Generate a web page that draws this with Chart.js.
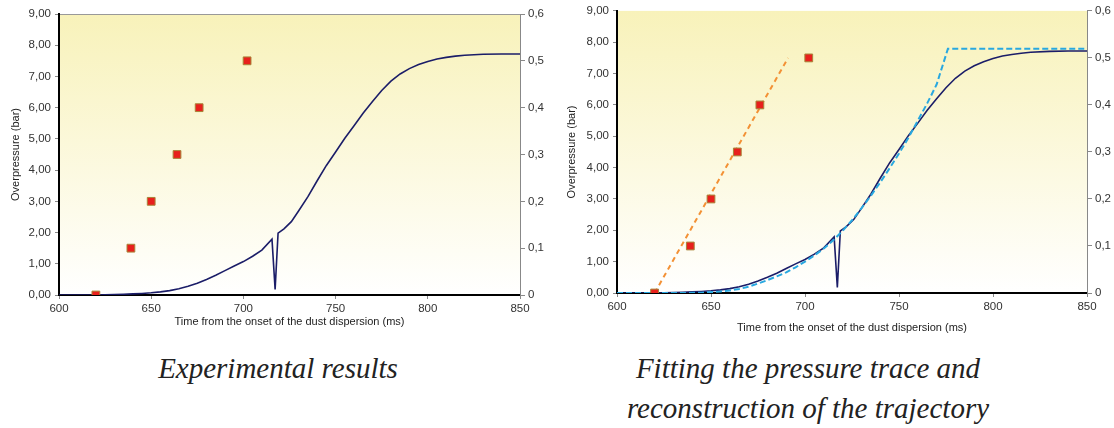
<!DOCTYPE html>
<html>
<head>
<meta charset="utf-8">
<script src="https://cdn.jsdelivr.net/npm/chart.js@4.4.1/dist/chart.umd.min.js"></script>
<style>
  body { margin: 0; background: #fff; width: 1114px; height: 428px; overflow: hidden; position: relative; }
  .box { position: absolute; }
  .cap { position: absolute; font-family: 'Liberation Serif', 'Times New Roman', serif; font-style: italic;
         font-size: 29px; color: #222; text-align: center; line-height: 40px; white-space: nowrap; }
</style>
</head>
<body>
<div class="box" style="left:0;top:0;width:560px;height:345px"><canvas id="graph1"></canvas></div>
<div class="box" style="left:560px;top:0;width:554px;height:345px"><canvas id="graph2"></canvas></div>
<div class="cap" style="left:78px;top:348px;width:400px">Experimental results</div>
<div class="cap" style="left:608px;top:348px;width:400px">Fitting the pressure trace and<br>reconstruction of the trajectory</div>

<script>
// measured pressure trace (bar, left axis)
const pressureTime = [600, 620, 625, 630, 635, 640, 645, 650, 655, 660, 665, 670, 675, 680, 685, 690, 695, 700, 705, 710,
  715.5, 717.2, 718.8, 722, 726, 730, 735, 740, 745, 750, 755, 760, 765, 770, 775, 780, 785, 790, 795, 800, 805, 810,
  815, 820, 830, 840, 850];
const pressureBar = [0, 0, 0.01, 0.015, 0.025, 0.035, 0.05, 0.07, 0.1, 0.14, 0.2, 0.28, 0.38, 0.5, 0.63, 0.78, 0.93, 1.07, 1.24, 1.44,
  1.79, 0.18, 1.98, 2.12, 2.35, 2.7, 3.15, 3.66, 4.15, 4.58, 5.02, 5.42, 5.83, 6.2, 6.55, 6.85, 7.08, 7.25, 7.38, 7.48, 7.56, 7.61,
  7.65, 7.68, 7.71, 7.72, 7.72];

// flame position (m, right axis)
const flameTime = [620, 639, 650, 664, 676, 702];
const flamePos = [0, 0.1, 0.2, 0.3, 0.4, 0.5];

// fitted trajectory
const fitTime = [620, 691];
const fitPos = [0, 0.5];

// reconstructed pressure (bar)
const modelTime = [600, 635, 640, 645, 650, 655, 660, 665, 670, 675, 680, 685, 690, 695, 700, 705, 710, 715, 720, 725,
  730, 735, 740, 745, 750, 755, 760, 765, 770, 776, 850];
const modelBar = [0, 0, 0.005, 0.01, 0.03, 0.05, 0.08, 0.13, 0.2, 0.3, 0.41, 0.53, 0.66, 0.82, 1.0, 1.2, 1.42, 1.68, 1.98, 2.32,
  2.7, 3.1, 3.53, 3.98, 4.45, 4.95, 5.5, 6.05, 6.65, 7.79, 7.79];

const timeTicks = [600, 650, 700, 750, 800, 850];
const barTicks = [0, 1, 2, 3, 4, 5, 6, 7, 8, 9];
const posTicks = [0, 0.1, 0.2, 0.3, 0.4, 0.5, 0.6];

Chart.defaults.font.family = "'Liberation Sans', Arial, sans-serif";
Chart.defaults.color = '#333';

function toPoints(xs, ys) {
  return xs.map((x, i) => ({x: x, y: ys[i]}));
}

const plotBackground = {
  id: 'plotBackground',
  beforeDraw(chart, args, opts) {
    const ctx = chart.ctx, a = chart.chartArea;
    const g = ctx.createLinearGradient(0, a.top, 0, a.bottom);
    g.addColorStop(0, '#f8f2ba');
    g.addColorStop(1, '#ffffff');
    ctx.save();
    ctx.fillStyle = g;
    ctx.fillRect(a.left, a.top, a.right - a.left, a.bottom - a.top);
    if (opts.topLine) {
      ctx.strokeStyle = '#999';
      ctx.lineWidth = 1;
      ctx.beginPath();
      ctx.moveTo(a.left, a.top + 0.5);
      ctx.lineTo(a.right, a.top + 0.5);
      ctx.stroke();
    }
    ctx.restore();
  }
};

function tickList(arr) {
  return function(scale) { scale.ticks = arr.map(v => ({value: v})); };
}

function buildOptions(s) {
  return {
    maintainAspectRatio: false,
    responsive: true,
    animation: false,
    layout: { padding: { top: s.top, left: 0, right: 0, bottom: 0 } },
    plugins: {
      legend: { display: false },
      tooltip: { enabled: false },
      plotBackground: { topLine: s.topLine }
    },
    scales: {
      x: {
        type: 'linear', min: 600, max: 850,
        afterBuildTicks: tickList(timeTicks),
        afterFit: function(scale) { scale.height = s.bottomH; },
        border: { color: '#000', width: 2 },
        grid: { drawOnChartArea: false, tickLength: 4, color: '#888' },
        ticks: { font: { size: 11.5 }, padding: 3 },
        title: { display: true, text: 'Time from the onset of the dust dispersion (ms)',
                 font: { size: 11 }, color: '#222', padding: { top: 0, bottom: s.xTitlePad } }
      },
      y: {
        position: 'left', min: 0, max: 9,
        afterBuildTicks: tickList(barTicks),
        afterFit: function(scale) { scale.width = s.leftW; },
        border: { color: '#000', width: 2 },
        grid: { drawOnChartArea: false, tickLength: 4, color: '#888' },
        ticks: { font: { size: 11.5 }, padding: 4, callback: v => v.toFixed(2).replace('.', ',') },
        title: { display: true, text: 'Overpressure (bar)', font: { size: 11 }, color: '#222',
                 padding: { top: s.yTitlePad, bottom: 0 } }
      },
      y2: {
        position: 'right', min: 0, max: 0.6,
        afterBuildTicks: tickList(posTicks),
        afterFit: function(scale) { scale.width = s.rightW; },
        border: { color: '#888', width: 1 },
        grid: { drawOnChartArea: false, tickLength: 5, color: '#888' },
        ticks: { font: { size: 11.5 }, padding: 3, callback: v => v === 0 ? '0' : v.toFixed(1).replace('.', ',') }
      }
    }
  };
}

const squares = {
  data: toPoints(flameTime, flamePos),
  yAxisID: 'y2',
  showLine: false,
  pointStyle: 'rect',
  pointRadius: 5.5,
  backgroundColor: '#e8201c',
  borderColor: '#a88438',
  borderWidth: 1
};

function pressureLine() {
  return {
    data: toPoints(pressureTime, pressureBar),
    yAxisID: 'y',
    showLine: true,
    pointRadius: 0,
    borderColor: '#1b1d68',
    borderWidth: 1.6,
    tension: 0
  };
}

var ctx = document.getElementById('graph1').getContext('2d');
var graph1 = new Chart(ctx, {
  type: 'scatter',
  data: { datasets: [squares, pressureLine()] },
  options: buildOptions({ top: 14, leftW: 59, rightW: 40, bottomH: 50, xTitlePad: 16, yTitlePad: 9.5, topLine: true }),
  plugins: [plotBackground]
});

var ctx2 = document.getElementById('graph2').getContext('2d');
var graph2 = new Chart(ctx2, {
  type: 'scatter',
  data: {
    datasets: [
      Object.assign({}, squares),
      {
        data: toPoints(fitTime, fitPos),
        yAxisID: 'y2',
        showLine: true,
        pointRadius: 0,
        borderColor: '#f39135',
        borderWidth: 2,
        borderDash: [5, 4]
      },
      {
        data: toPoints(modelTime, modelBar),
        yAxisID: 'y',
        showLine: true,
        pointRadius: 0,
        borderColor: '#29a8e0',
        borderWidth: 2,
        borderDash: [6, 3]
      },
      pressureLine()
    ]
  },
  options: buildOptions({ top: 7, leftW: 57, rightW: 27, bottomH: 52, xTitlePad: 10.5, yTitlePad: 5.5, topLine: false }),
  plugins: [plotBackground]
});
</script>
</body>
</html>
